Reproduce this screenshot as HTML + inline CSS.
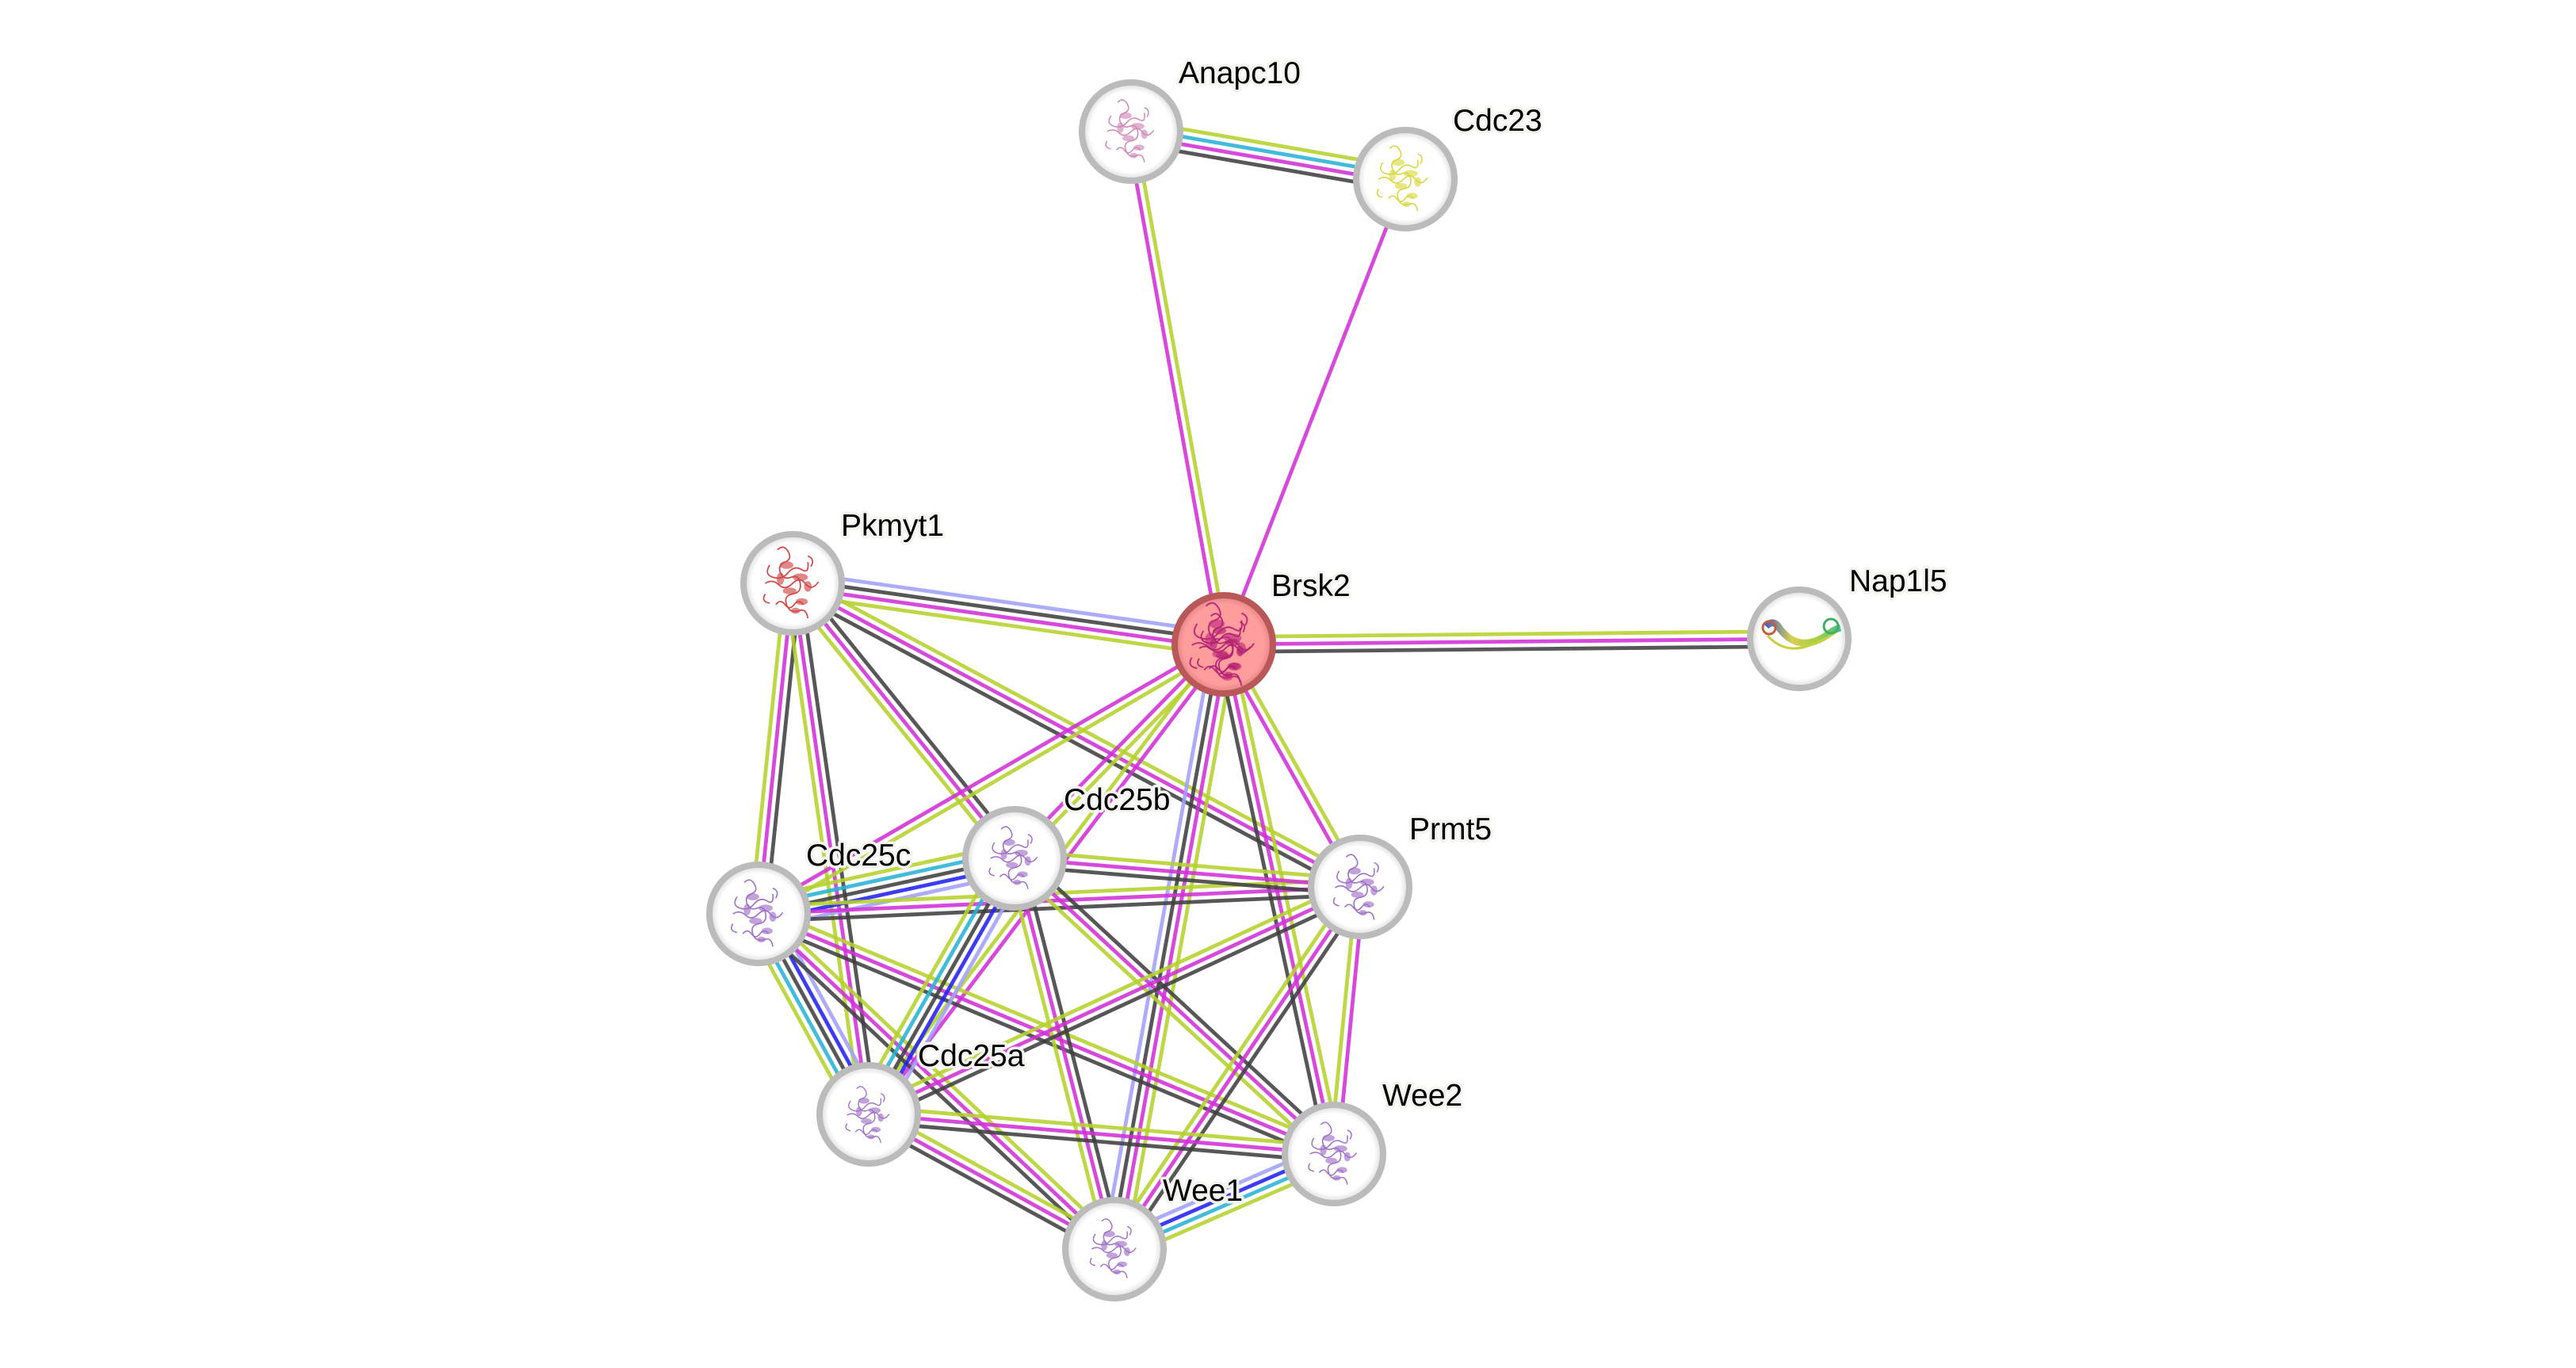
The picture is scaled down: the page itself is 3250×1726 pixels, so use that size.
<!DOCTYPE html>
<html><head><meta charset="utf-8"><style>
html,body{margin:0;padding:0;background:#fff;}
svg{display:block;}
.L{stroke:#b4d22e;}.M{stroke:#d030d6;}.K{stroke:#404040;}.C{stroke:#29b2d6;}.U{stroke:#2121f5;}.V{stroke:#a0a0fa;}
.e line{stroke-width:4.8;stroke-opacity:0.88;}
.lbl{font-family:"Liberation Sans",Arial,sans-serif;font-size:39px;fill:#000;stroke:#f4f4f0;stroke-width:7;paint-order:stroke;stroke-linejoin:round;}
</style></head><body>
<svg width="3250" height="1726" viewBox="0 0 3250 1726" xmlns="http://www.w3.org/2000/svg">
<defs>
<radialGradient id="gw" cx="50%" cy="50%" r="50%">
<stop offset="0.82" stop-color="#ffffff"/><stop offset="1" stop-color="#d8d8d8"/>
</radialGradient>
<radialGradient id="gr" cx="50%" cy="50%" r="50%">
<stop offset="0.82" stop-color="#ff9c9c"/><stop offset="1" stop-color="#e08080"/>
</radialGradient>
<linearGradient id="hx" x1="0" y1="0" x2="1" y2="0">
<stop offset="0" stop-color="#4060d0"/><stop offset="0.35" stop-color="#d8d050"/><stop offset="0.7" stop-color="#a0d040"/><stop offset="1" stop-color="#40c0a0"/>
</linearGradient>
<symbol id="pr" overflow="visible" viewBox="-50 -50 100 100">
<g fill="none" stroke="currentColor" stroke-width="1.8">
<path d="M-20,-44 q8,-8 14,2 q6,10 -4,14 q-10,4 -6,14 q4,10 14,6 q10,-4 12,8 q2,12 -10,14 q-12,2 -8,14 q4,12 16,8 q10,-4 12,10"/>
<path d="M-36,0 q10,-6 18,2 q8,8 18,-2 q10,-10 18,2 q8,8 16,-4 M-22,28 q6,-8 12,0 q6,8 12,0 q6,-8 12,0"/>
<path d="M-30,-24 q-8,12 4,16 q12,4 20,-6 q8,-10 18,-4 q10,6 8,-10 M-36,14 q-6,10 6,12 M20,-36 q10,4 4,14"/>
</g>
<g fill="currentColor" fill-opacity="0.65">
<ellipse cx="-8" cy="-24" rx="9" ry="5"/><ellipse cx="10" cy="-8" rx="10" ry="5"/><ellipse cx="-4" cy="10" rx="9" ry="4.5"/><ellipse cx="12" cy="24" rx="8" ry="4.5"/><ellipse cx="-16" cy="-6" rx="5" ry="8"/><ellipse cx="4" cy="36" rx="6" ry="4"/><ellipse cx="20" cy="4" rx="5" ry="7"/>
</g>
</symbol>
</defs>
<rect width="3250" height="1726" fill="#fff"/>

<!-- edges -->
<g class="e">
<g transform="translate(1427 166) rotate(9.84)"><line class="L" x1="0" x2="351.2" y1="-14.25" y2="-14.25"/><line class="C" x1="0" x2="351.2" y1="-4.75" y2="-4.75"/><line class="M" x1="0" x2="351.2" y1="4.75" y2="4.75"/><line class="K" x1="0" x2="351.2" y1="14.25" y2="14.25"/></g>
<g transform="translate(1427 166) rotate(79.75)"><line class="L" x1="0" x2="657.5" y1="-4.75" y2="-4.75"/><line class="M" x1="0" x2="657.5" y1="4.75" y2="4.75"/></g>
<g transform="translate(1773 226) rotate(111.3)"><line class="M" x1="0" x2="630.1" y1="0" y2="0"/></g>
<g transform="translate(1544 813) rotate(-0.55)"><line class="L" x1="0" x2="726" y1="-9.5" y2="-9.5"/><line class="M" x1="0" x2="726" y1="0" y2="0"/><line class="K" x1="0" x2="726" y1="9.5" y2="9.5"/></g>
<g transform="translate(1000 736) rotate(8.06)"><line class="V" x1="0" x2="549.4" y1="-14.25" y2="-14.25"/><line class="K" x1="0" x2="549.4" y1="-4.75" y2="-4.75"/><line class="M" x1="0" x2="549.4" y1="4.75" y2="4.75"/><line class="L" x1="0" x2="549.4" y1="14.25" y2="14.25"/></g>
<g transform="translate(1000 736) rotate(95.89)"><line class="K" x1="0" x2="419.2" y1="-9.5" y2="-9.5"/><line class="M" x1="0" x2="419.2" y1="0" y2="0"/><line class="L" x1="0" x2="419.2" y1="9.5" y2="9.5"/></g>
<g transform="translate(1000 736) rotate(81.85)"><line class="K" x1="0" x2="676.8" y1="-9.5" y2="-9.5"/><line class="M" x1="0" x2="676.8" y1="0" y2="0"/><line class="L" x1="0" x2="676.8" y1="9.5" y2="9.5"/></g>
<g transform="translate(1000 736) rotate(51.1)"><line class="K" x1="0" x2="445.9" y1="-9.5" y2="-9.5"/><line class="M" x1="0" x2="445.9" y1="0" y2="0"/><line class="L" x1="0" x2="445.9" y1="9.5" y2="9.5"/></g>
<g transform="translate(1000 736) rotate(28.14)"><line class="L" x1="0" x2="812" y1="-9.5" y2="-9.5"/><line class="M" x1="0" x2="812" y1="0" y2="0"/><line class="K" x1="0" x2="812" y1="9.5" y2="9.5"/></g>
<g transform="translate(1544 813) rotate(149.92)"><line class="L" x1="0" x2="678.4" y1="-4.75" y2="-4.75"/><line class="M" x1="0" x2="678.4" y1="4.75" y2="4.75"/></g>
<g transform="translate(1544 813) rotate(134.36)"><line class="L" x1="0" x2="377.6" y1="-4.75" y2="-4.75"/><line class="M" x1="0" x2="377.6" y1="4.75" y2="4.75"/></g>
<g transform="translate(1544 813) rotate(127.07)"><line class="M" x1="0" x2="743.2" y1="-4.75" y2="-4.75"/><line class="L" x1="0" x2="743.2" y1="4.75" y2="4.75"/></g>
<g transform="translate(1544 813) rotate(100.25)"><line class="L" x1="0" x2="775.4" y1="-14.25" y2="-14.25"/><line class="M" x1="0" x2="775.4" y1="-4.75" y2="-4.75"/><line class="K" x1="0" x2="775.4" y1="4.75" y2="4.75"/><line class="V" x1="0" x2="775.4" y1="14.25" y2="14.25"/></g>
<g transform="translate(1544 813) rotate(77.8)"><line class="L" x1="0" x2="657.9" y1="-9.5" y2="-9.5"/><line class="M" x1="0" x2="657.9" y1="0" y2="0"/><line class="K" x1="0" x2="657.9" y1="9.5" y2="9.5"/></g>
<g transform="translate(1544 813) rotate(60.66)"><line class="L" x1="0" x2="351" y1="-4.75" y2="-4.75"/><line class="M" x1="0" x2="351" y1="4.75" y2="4.75"/></g>
<g transform="translate(957 1153) rotate(-12.23)"><line class="L" x1="0" x2="330.5" y1="-19" y2="-19"/><line class="C" x1="0" x2="330.5" y1="-9.5" y2="-9.5"/><line class="K" x1="0" x2="330.5" y1="0" y2="0"/><line class="U" x1="0" x2="330.5" y1="9.5" y2="9.5"/><line class="V" x1="0" x2="330.5" y1="19" y2="19"/></g>
<g transform="translate(957 1153) rotate(-2.56)"><line class="L" x1="0" x2="759.8" y1="-9.5" y2="-9.5"/><line class="M" x1="0" x2="759.8" y1="0" y2="0"/><line class="K" x1="0" x2="759.8" y1="9.5" y2="9.5"/></g>
<g transform="translate(957 1153) rotate(61.22)"><line class="V" x1="0" x2="288.7" y1="-19" y2="-19"/><line class="U" x1="0" x2="288.7" y1="-9.5" y2="-9.5"/><line class="K" x1="0" x2="288.7" y1="0" y2="0"/><line class="C" x1="0" x2="288.7" y1="9.5" y2="9.5"/><line class="L" x1="0" x2="288.7" y1="19" y2="19"/></g>
<g transform="translate(957 1153) rotate(22.65)"><line class="L" x1="0" x2="786.7" y1="-9.5" y2="-9.5"/><line class="M" x1="0" x2="786.7" y1="0" y2="0"/><line class="K" x1="0" x2="786.7" y1="9.5" y2="9.5"/></g>
<g transform="translate(957 1153) rotate(43.3)"><line class="L" x1="0" x2="616.9" y1="-9.5" y2="-9.5"/><line class="M" x1="0" x2="616.9" y1="0" y2="0"/><line class="K" x1="0" x2="616.9" y1="9.5" y2="9.5"/></g>
<g transform="translate(1280 1083) rotate(4.72)"><line class="L" x1="0" x2="437.5" y1="-9.5" y2="-9.5"/><line class="M" x1="0" x2="437.5" y1="0" y2="0"/><line class="K" x1="0" x2="437.5" y1="9.5" y2="9.5"/></g>
<g transform="translate(1280 1083) rotate(119.67)"><line class="V" x1="0" x2="371.7" y1="-19" y2="-19"/><line class="U" x1="0" x2="371.7" y1="-9.5" y2="-9.5"/><line class="K" x1="0" x2="371.7" y1="0" y2="0"/><line class="C" x1="0" x2="371.7" y1="9.5" y2="9.5"/><line class="L" x1="0" x2="371.7" y1="19" y2="19"/></g>
<g transform="translate(1280 1083) rotate(42.78)"><line class="K" x1="0" x2="549.1" y1="-9.5" y2="-9.5"/><line class="M" x1="0" x2="549.1" y1="0" y2="0"/><line class="L" x1="0" x2="549.1" y1="9.5" y2="9.5"/></g>
<g transform="translate(1280 1083) rotate(75.66)"><line class="K" x1="0" x2="508.8" y1="-9.5" y2="-9.5"/><line class="M" x1="0" x2="508.8" y1="0" y2="0"/><line class="L" x1="0" x2="508.8" y1="9.5" y2="9.5"/></g>
<g transform="translate(1716 1119) rotate(155.16)"><line class="K" x1="0" x2="683.2" y1="-9.5" y2="-9.5"/><line class="M" x1="0" x2="683.2" y1="0" y2="0"/><line class="L" x1="0" x2="683.2" y1="9.5" y2="9.5"/></g>
<g transform="translate(1716 1119) rotate(124.15)"><line class="K" x1="0" x2="552.2" y1="-9.5" y2="-9.5"/><line class="M" x1="0" x2="552.2" y1="0" y2="0"/><line class="L" x1="0" x2="552.2" y1="9.5" y2="9.5"/></g>
<g transform="translate(1716 1119) rotate(95.59)"><line class="M" x1="0" x2="338.6" y1="-4.75" y2="-4.75"/><line class="L" x1="0" x2="338.6" y1="4.75" y2="4.75"/></g>
<g transform="translate(1096 1406) rotate(4.87)"><line class="L" x1="0" x2="589.1" y1="-9.5" y2="-9.5"/><line class="M" x1="0" x2="589.1" y1="0" y2="0"/><line class="K" x1="0" x2="589.1" y1="9.5" y2="9.5"/></g>
<g transform="translate(1096 1406) rotate(28.74)"><line class="L" x1="0" x2="353.6" y1="-9.5" y2="-9.5"/><line class="M" x1="0" x2="353.6" y1="0" y2="0"/><line class="K" x1="0" x2="353.6" y1="9.5" y2="9.5"/></g>
<g transform="translate(1406 1576) rotate(-23.43)"><line class="V" x1="0" x2="301.9" y1="-14.25" y2="-14.25"/><line class="U" x1="0" x2="301.9" y1="-4.75" y2="-4.75"/><line class="C" x1="0" x2="301.9" y1="4.75" y2="4.75"/><line class="L" x1="0" x2="301.9" y1="14.25" y2="14.25"/></g>
</g>

<!-- nodes -->
<g stroke="#bbbbbb" stroke-width="8" fill="url(#gw)">
<circle cx="1427" cy="166" r="62"/>
<circle cx="1773" cy="226" r="62"/>
<circle cx="2270" cy="806" r="62"/>
<circle cx="1000" cy="736" r="62"/>
<circle cx="1280" cy="1083" r="62"/>
<circle cx="957" cy="1153" r="62"/>
<circle cx="1716" cy="1119" r="62"/>
<circle cx="1096" cy="1406" r="62"/>
<circle cx="1683" cy="1456" r="62"/>
<circle cx="1406" cy="1576" r="62"/>
</g>
<circle cx="1544" cy="813" r="62" fill="url(#gr)" stroke="#b85858" stroke-width="8"/>

<!-- structure icons -->
<use href="#pr" x="1385" y="120" width="84" height="92" style="color:#d088b8"/>
<use href="#pr" x="1727" y="176" width="88" height="100" style="color:#d8d840"/>
<use href="#pr" x="948" y="688" width="104" height="96" style="color:#d04848"/>
<use href="#pr" x="1488" y="754" width="112" height="120" style="color:#c02c7c"/>
<use href="#pr" x="1500" y="770" width="92" height="96" style="color:#b02070"/>
<use href="#pr" x="1238" y="1036" width="84" height="94" style="color:#a070c8"/>
<use href="#pr" x="908" y="1108" width="98" height="90" style="color:#a070c8"/>
<use href="#pr" x="1672" y="1064" width="88" height="112" style="color:#a070c8"/>
<use href="#pr" x="1058" y="1368" width="76" height="78" style="color:#a070c8"/>
<use href="#pr" x="1641" y="1404" width="84" height="104" style="color:#a070c8"/>
<use href="#pr" x="1366" y="1522" width="80" height="108" style="color:#a070c8"/>
<g fill="none">
<path d="M2228,790 q10,-10 18,4 q24,30 58,8 q10,-8 18,-10" stroke="url(#hx)" stroke-width="9"/>
<path d="M2230,802 q20,22 48,14 q25,-8 40,-20" stroke="#c8d040" stroke-width="3"/>
<circle cx="2232" cy="792" r="8" stroke="#c06040" stroke-width="3"/>
<circle cx="2310" cy="790" r="9" stroke="#40b060" stroke-width="3"/>
</g>

<!-- labels -->
<g class="lbl">
<text x="1487" y="105">Anapc10</text>
<text x="1833" y="165">Cdc23</text>
<text x="1061" y="676">Pkmyt1</text>
<text x="1604" y="752">Brsk2</text>
<text x="2333" y="746">Nap1l5</text>
<text x="1342" y="1022">Cdc25b</text>
<text x="1017" y="1092">Cdc25c</text>
<text x="1778" y="1059">Prmt5</text>
<text x="1158" y="1345">Cdc25a</text>
<text x="1744" y="1395">Wee2</text>
<text x="1467" y="1515">Wee1</text>
</g>
</svg>
</body></html>
